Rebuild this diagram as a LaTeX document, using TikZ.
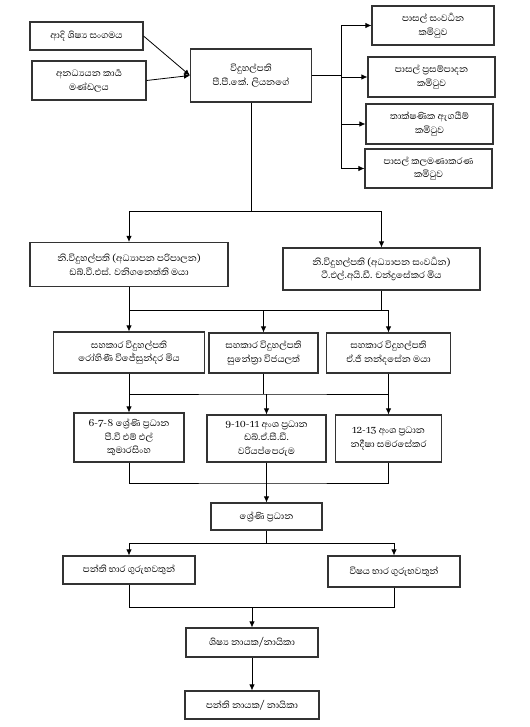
\documentclass[tikz,border=0pt]{standalone}
\usepackage{fontspec}
\newfontfamily\sinhala[Script=Sinhala]{Abhaya Libre}
\usetikzlibrary{arrows.meta, positioning}
\definecolor{lineGray}{HTML}{333333}
\tikzset{
    box/.style={draw=lineGray, thick, fill=white, align=center, font=\sinhala\fontsize{8.8}{10.3}\selectfont, inner sep=1.5pt},
    arr/.style={-{Latex[length=4.5pt,width=4pt]}, semithick, draw=black},
    link/.style={semithick, draw=black}
}
\begin{document}
\begin{tikzpicture}[x=0.75pt, y=-0.75pt]
    \useasboundingbox (0,0) rectangle (530,727);
    \fill[white] (0,0) rectangle (530,727);

    % top level
    \node[box, minimum width=84.75pt, minimum height=21pt] (pp) at (86.5,36) {ආදි ශිෂ්^^^^200dය සංගමය};
    \node[box, minimum width=85.5pt, minimum height=29.25pt] (nas) at (89,80.5) {අනධ්^^^^200dයයන කාර්^^^^200dය\\මණ්ඩලය};
    \node[box, minimum width=90.75pt, minimum height=39.75pt] (prin) at (251,75.5) {විදුහල්පති\\පී.පී.කේ. ලියනගේ};

    % committees
    \node[box, minimum width=91.5pt, minimum height=29.25pt] (com1) at (433,25.5) {පාසල් සංවර්^^^^200dධන\\කමිටුව};
    \node[box, minimum width=95.25pt, minimum height=30pt] (com2) at (431.5,77) {පාසල් ප්^^^^200dරසම්පාදන\\කමිටුව};
    \node[box, minimum width=95.25pt, minimum height=30pt] (com3) at (429.5,124) {තාක්ෂණික ඇගයීම්\\කමිටුව};
    \node[box, minimum width=95.25pt, minimum height=29.25pt] (com4) at (428.5,168.5) {පාසල් කලමණාකරණ\\කමිටුව};

    % deputies and assistants
    \node[box, minimum width=148.5pt, minimum height=33pt] (dep1) at (129,264.5) {නි.විදුහල්පති (අධ්^^^^200dයාපන පරිපාලන)\\ඩබ්.වී.එස්. වනිගනෙත්ති මයා};
    \node[box, minimum width=147.75pt, minimum height=31.5pt] (dep2) at (381.5,269) {නි.විදුහල්පති (අධ්^^^^200dයාපන සංවර්^^^^200dධන)\\ටී.එල්.අයි.ඩී. චන්ද්^^^^200dරසේකර මිය};
    \node[box, minimum width=113.25pt, minimum height=30.75pt] (as1) at (129,352.5) {සහකාර විදුහල්පති\\රෝහිණී විජේසුන්දර මිය};
    \node[box, minimum width=81.75pt, minimum height=30pt] (as2) at (263.5,353) {සහකාර විදුහල්පති\\සුනේත්^^^^200dරා විජයලත්};
    \node[box, minimum width=93pt, minimum height=30pt] (as3) at (388.5,353) {සහකාර විදුහල්පති\\ඒ.ජී නන්දසේන මයා};

    % sectional heads
    \node[box, minimum width=82.5pt, minimum height=36.75pt] (gh1) at (129,437.5) {6-7-8 ශ්^^^^200dරේණි ප්^^^^200dරධාන\\පී.වී එම් එල්\\කුමාරසිංහ};
    \node[box, minimum width=89.25pt, minimum height=35.25pt] (gh2) at (266.5,438.5) {9-10-11 අංශ ප්^^^^200dරධාන\\ඩබ්.ඒ.සී.ඩී.\\වරියප්පෙරුම};
    \node[box, minimum width=79.5pt, minimum height=35.25pt] (gh3) at (388.5,438.5) {12-13 අංශ ප්^^^^200dරධාන\\නදීෂා සමරසේකර};
    \node[box, minimum width=83.25pt, minimum height=20.25pt] (gr) at (266.5,516.5) {ශ්^^^^200dරේණි ප්^^^^200dරධාන};

    % teachers and prefects
    \node[box, minimum width=99pt, minimum height=21pt] (ct) at (129,570) {පන්ති භාර ගුරුභවතුන්};
    \node[box, minimum width=99pt, minimum height=23.25pt] (st) at (394,571.5) {විෂය භාර ගුරුභවතුන්};
    \node[box, minimum width=99pt, minimum height=21.75pt] (sl) at (252,642.5) {ශිෂ්^^^^200dය නායක/නායිකා};
    \node[box, minimum width=100.5pt, minimum height=21pt] (cm) at (252,705) {පන්ති නායක/ නායිකා};

    % junctions
    \coordinate (jr) at (341,75.5);
    \coordinate (b1) at (251,211);
    \coordinate (b2) at (263.5,310);
    \coordinate (b3) at (266.5,394);
    \coordinate (b4) at (266.5,483);
    \coordinate (b5) at (266.5,543);
    \coordinate (b6) at (252,607);

    % connectors
    \draw[arr] (pp.east) -- (prin.west);
    \draw[arr] (nas.east) -- (prin.west);
    \draw[link, very thick] (prin.east) -- (jr);
    \draw[link] (jr |- com1.west) -- (jr |- com4.west);
    \foreach \c in {com1, com2, com3, com4}
        \draw[arr] (jr |- \c.west) -- (\c.west);

    \draw[link] (prin.south) -- (b1);
    \draw[arr] (b1) -| (dep1.north);
    \draw[arr] (b1) -| (dep2.north);

    \draw[link] (dep1.south) |- (b2);
    \draw[link] (dep2.south) |- (b2);
    \draw[arr] (dep1.south) -- (as1.north);
    \draw[arr] (b2) -- (as2.north);
    \draw[arr] (b2) -| (as3.north);

    \draw[link] (as1.south) |- (b3) -| (as3.south);
    \draw[link] (as2.south) -- (as2.south |- b3);
    \draw[arr] (as1.south) -- (gh1.north);
    \draw[arr] (b3) -- (gh2.north);
    \draw[arr] (as3.south) -- (gh3.north);

    \draw[link] (gh1.south) |- (b4) -| (gh3.south);
    \draw[arr] (gh2.south) -- (gr.north);

    \draw[link] (gr.south) -- (b5);
    \draw[arr] (b5) -| (ct.north);
    \draw[arr] (b5) -| (st.north);

    \draw[link] (ct.south) |- (b6);
    \draw[link] (st.south) |- (b6);
    \draw[arr] (b6) -- (sl.north);
    \draw[arr] (sl.south) -- (cm.north);
\end{tikzpicture}
\end{document}
